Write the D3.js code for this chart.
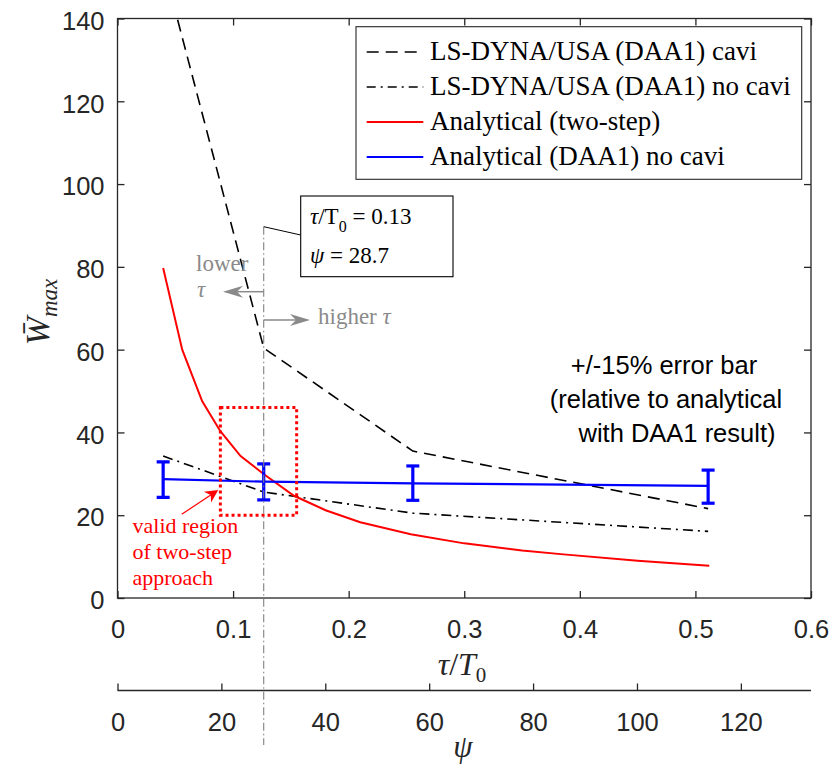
<!DOCTYPE html>
<html>
<head>
<meta charset="utf-8">
<script src="https://cdn.jsdelivr.net/npm/d3@7"></script>
<style>
  body { margin: 0; background: #fff; }
  svg { display: block; }
</style>
</head>
<body>
<div id="chart"></div>
<script>
// data
var tauFem = [0.0395, 0.1265, 0.2555, 0.511];
var wCavi = [153, 60.4, 35.5, 21.6];
var wNoCavi = [34.3, 25.6, 20.5, 16.1];
var wDaa1 = [28.7, 28.1, 27.7, 27.1];
var errHigh = [32.9, 32.4, 31.9, 30.9];
var errLow = [24.3, 23.7, 23.6, 22.9];
var tauTwoStep = [0.0395, 0.056, 0.0733, 0.089, 0.1065, 0.1267, 0.1527, 0.18, 0.21, 0.2537, 0.3, 0.35, 0.3835, 0.45, 0.512];
var wTwoStep = [79.7, 60, 47.5, 40.3, 34.3, 29.9, 24.7, 21.2, 18.3, 15.4, 13.2, 11.5, 10.6, 9.0, 7.8];
var tauTicks = [0, 0.1, 0.2, 0.3, 0.4, 0.5, 0.6];
var psiTicks = [0, 20, 40, 60, 80, 100, 120];
var wTicks = [0, 20, 40, 60, 80, 100, 120, 140];
var validTau = [0.089, 0.155];
var validW = [20, 46];
var legendNames = ["LS-DYNA/USA (DAA1) cavi", "LS-DYNA/USA (DAA1) no cavi", "Analytical (two-step)", "Analytical (DAA1) no cavi"];

var width = 833, height = 765;
var axisColor = "#262626";
var sans = "'Liberation Sans', Arial, Helvetica, sans-serif";
var serif = "'Liberation Serif', 'Times New Roman', serif";

var svg = d3.select("#chart").append("svg")
  .attr("width", width)
  .attr("height", height);

svg.append("rect").attr("width", width).attr("height", height).attr("fill", "#fff");

var x = d3.scaleLinear().domain([0, 0.6]).range([117.5, 811]);
var y = d3.scaleLinear().domain([0, 140]).range([598, 18.5]);
var psi = d3.scaleLinear().domain([0, 133.5]).range([117.5, 811]);

svg.append("clipPath").attr("id", "plotclip")
  .append("rect")
  .attr("x", x(0)).attr("y", y(140))
  .attr("width", x(0.6) - x(0)).attr("height", y(0) - y(140));

// axes
function styleAxis(g) {
  g.select(".domain").remove();
  g.selectAll(".tick line").attr("stroke", axisColor).attr("stroke-width", 1.3);
  g.selectAll(".tick text").attr("fill", axisColor)
    .style("font-family", sans).style("font-size", "25.5px");
}

svg.append("g")
  .attr("transform", "translate(0," + y(0) + ")")
  .call(d3.axisBottom(x).tickValues(tauTicks).tickSize(-7).tickPadding(22).tickFormat(d3.format("")))
  .call(styleAxis);

svg.append("g")
  .attr("transform", "translate(0," + y(140) + ")")
  .call(d3.axisTop(x).tickValues(tauTicks).tickSize(-7).tickFormat(""))
  .call(styleAxis);

svg.append("g")
  .attr("transform", "translate(" + x(0) + ",0)")
  .call(d3.axisLeft(y).tickValues(wTicks).tickSize(-7).tickPadding(13))
  .call(styleAxis)
  .selectAll(".tick text").attr("dy", "0.42em");

svg.append("g")
  .attr("transform", "translate(" + x(0.6) + ",0)")
  .call(d3.axisRight(y).tickValues(wTicks).tickSize(-7).tickFormat(""))
  .call(styleAxis);

svg.append("rect")
  .attr("x", x(0)).attr("y", y(140))
  .attr("width", x(0.6) - x(0)).attr("height", y(0) - y(140))
  .attr("fill", "none").attr("stroke", axisColor).attr("stroke-width", 1.3);

// second axis: psi
var psiY = 690.5;
svg.append("g")
  .attr("transform", "translate(0," + psiY + ")")
  .call(d3.axisBottom(psi).tickValues(psiTicks).tickSize(-7).tickPadding(22))
  .call(styleAxis);
svg.append("line")
  .attr("x1", psi(0)).attr("x2", x(0.6))
  .attr("y1", psiY).attr("y2", psiY)
  .attr("stroke", axisColor).attr("stroke-width", 1.5);

// axis labels
var tl = svg.append("text")
  .attr("x", 462).attr("y", 675)
  .attr("text-anchor", "middle")
  .style("font-family", serif).style("font-size", "32px").attr("fill", axisColor);
tl.append("tspan").style("font-style", "italic").text("τ");
tl.append("tspan").text("/");
tl.append("tspan").style("font-style", "italic").text("T");
tl.append("tspan").attr("dy", 7).style("font-size", "21px").text("0");

svg.append("text")
  .attr("x", 463).attr("y", 757)
  .attr("text-anchor", "middle")
  .style("font-family", serif).style("font-size", "31px").style("font-style", "italic")
  .attr("fill", axisColor)
  .text("ψ");

var yl = svg.append("text")
  .attr("transform", "translate(49,312) rotate(-90)")
  .attr("text-anchor", "middle")
  .style("font-family", serif).style("font-size", "34px").attr("fill", axisColor);
yl.append("tspan").style("font-style", "italic").text("W\u0304");
yl.append("tspan").attr("dy", 8).style("font-size", "23px").style("font-style", "italic").text("max");

// plot lines
var plot = svg.append("g").attr("clip-path", "url(#plotclip)");

var femLine = d3.line()
  .x(function (d) { return x(d[0]); })
  .y(function (d) { return y(d[1]); });

plot.append("path")
  .datum(d3.zip(tauFem, wCavi))
  .attr("d", femLine)
  .attr("fill", "none").attr("stroke", "#000").attr("stroke-width", 1.6)
  .attr("stroke-dasharray", "12,7");

plot.append("path")
  .datum(d3.zip(tauFem, wNoCavi))
  .attr("d", femLine)
  .attr("fill", "none").attr("stroke", "#000").attr("stroke-width", 1.6)
  .attr("stroke-dasharray", "10,5,2,5");

plot.append("path")
  .datum(d3.zip(tauTwoStep, wTwoStep))
  .attr("d", femLine)
  .attr("fill", "none").attr("stroke", "#ff0000").attr("stroke-width", 2);

plot.append("path")
  .datum(d3.zip(tauFem, wDaa1))
  .attr("d", femLine)
  .attr("fill", "none").attr("stroke", "#0000ff").attr("stroke-width", 2.2);

// error bars
var eb = plot.selectAll(".errbar")
  .data(d3.range(tauFem.length))
  .enter().append("g").attr("class", "errbar");
eb.append("line")
  .attr("x1", function (i) { return x(tauFem[i]); })
  .attr("x2", function (i) { return x(tauFem[i]); })
  .attr("y1", function (i) { return y(errLow[i]); })
  .attr("y2", function (i) { return y(errHigh[i]); })
  .attr("stroke", "#0000ff").attr("stroke-width", 3.2);
eb.append("line")
  .attr("x1", function (i) { return x(tauFem[i]) - 6.5; })
  .attr("x2", function (i) { return x(tauFem[i]) + 6.5; })
  .attr("y1", function (i) { return y(errLow[i]); })
  .attr("y2", function (i) { return y(errLow[i]); })
  .attr("stroke", "#0000ff").attr("stroke-width", 3.2);
eb.append("line")
  .attr("x1", function (i) { return x(tauFem[i]) - 6.5; })
  .attr("x2", function (i) { return x(tauFem[i]) + 6.5; })
  .attr("y1", function (i) { return y(errHigh[i]); })
  .attr("y2", function (i) { return y(errHigh[i]); })
  .attr("stroke", "#0000ff").attr("stroke-width", 3.2);

// valid region box
svg.append("rect")
  .attr("x", x(validTau[0])).attr("y", y(validW[1]))
  .attr("width", x(validTau[1]) - x(validTau[0]))
  .attr("height", y(validW[0]) - y(validW[1]))
  .attr("fill", "none").attr("stroke", "#ff0000").attr("stroke-width", 3)
  .attr("stroke-dasharray", "3,3");

// red arrow + text
function arrowHead(g, x1, y1, x2, y2, len, wid, color) {
  var a = Math.atan2(y2 - y1, x2 - x1);
  var ca = Math.cos(a), sa = Math.sin(a);
  var bx = x2 - len * ca, by = y2 - len * sa;
  var nx = x2 - len * 0.7 * ca, ny = y2 - len * 0.7 * sa;
  var pts = [
    [x2, y2],
    [bx - wid / 2 * sa, by + wid / 2 * ca],
    [nx, ny],
    [bx + wid / 2 * sa, by - wid / 2 * ca]
  ];
  g.append("path").attr("d", "M" + pts.join("L") + "Z").attr("fill", color);
}

svg.append("line")
  .attr("x1", 181.7).attr("y1", 514.3).attr("x2", 216).attr("y2", 491.5)
  .attr("stroke", "#ff0000").attr("stroke-width", 1.2);
arrowHead(svg, 181.7, 514.3, 218.3, 490, 13, 13, "#ff0000");

var redText = ["valid region", "of two-step", "approach"];
svg.selectAll(".redtext")
  .data(redText)
  .enter().append("text")
  .attr("x", 132.5)
  .attr("y", function (d, i) { return 533 + i * 26; })
  .style("font-family", serif).style("font-size", "22px")
  .attr("fill", "#ff0000")
  .text(function (d) { return d; });

// vertical marker at tau = 0.13
var xm = x(tauFem[1]);
svg.append("line")
  .attr("x1", xm).attr("x2", xm)
  .attr("y1", 226.7).attr("y2", 745)
  .attr("stroke", "#808080").attr("stroke-width", 1.1)
  .attr("stroke-dasharray", "8,3,1.5,3");

svg.append("line")
  .attr("x1", xm).attr("y1", 226.7).attr("x2", 300.7).attr("y2", 235)
  .attr("stroke", "#000").attr("stroke-width", 1);

svg.append("rect")
  .attr("x", 300.7).attr("y", 196).attr("width", 152.3).attr("height", 80.7)
  .attr("fill", "#fff").attr("stroke", "#000").attr("stroke-width", 1.1);

var a1 = svg.append("text").attr("x", 310).attr("y", 224)
  .style("font-family", serif).style("font-size", "23px").attr("fill", "#000");
a1.append("tspan").style("font-style", "italic").text("τ");
a1.append("tspan").text("/T");
a1.append("tspan").attr("dy", 8).style("font-size", "16px").text("0");
a1.append("tspan").attr("dy", -8).text(" = 0.13");

var a2 = svg.append("text").attr("x", 310).attr("y", 263)
  .style("font-family", serif).style("font-size", "23px").attr("fill", "#000");
a2.append("tspan").style("font-style", "italic").text("ψ");
a2.append("tspan").text(" = 28.7");

// lower / higher tau arrows
var gray = "#8a8a8a";
svg.append("line").attr("x1", xm).attr("x2", 236).attr("y1", 291.7).attr("y2", 291.7)
  .attr("stroke", gray).attr("stroke-width", 1.5);
arrowHead(svg, xm, 291.7, 223, 291.7, 20, 12, gray);
svg.append("line").attr("x1", xm).attr("x2", 298).attr("y1", 320).attr("y2", 320)
  .attr("stroke", gray).attr("stroke-width", 1.5);
arrowHead(svg, xm, 320, 310, 320, 20, 12, gray);

svg.append("text").attr("x", 196).attr("y", 270.5)
  .style("font-family", serif).style("font-size", "23px").attr("fill", gray)
  .text("lower");
svg.append("text").attr("x", 197).attr("y", 297)
  .style("font-family", serif).style("font-size", "23px").style("font-style", "italic").attr("fill", gray)
  .text("τ");
var ht = svg.append("text").attr("x", 318).attr("y", 324)
  .style("font-family", serif).style("font-size", "23px").attr("fill", gray);
ht.append("tspan").text("higher ");
ht.append("tspan").style("font-style", "italic").text("τ");

// error bar note
var noteLines = ["+/-15% error bar", "(relative to analytical", "with DAA1 result)"];
var noteX = [664, 666, 677];
svg.selectAll(".note")
  .data(noteLines)
  .enter().append("text")
  .attr("x", function (d, i) { return noteX[i]; })
  .attr("y", function (d, i) { return 374 + i * 34; })
  .attr("text-anchor", "middle")
  .style("font-family", sans).style("font-size", "25.5px")
  .attr("fill", "#000")
  .text(function (d) { return d; });

// legend
var legend = svg.append("g");
legend.append("rect")
  .attr("x", 356).attr("y", 26.7).attr("width", 445.7).attr("height", 152.6)
  .attr("fill", "#fff").attr("stroke", axisColor).attr("stroke-width", 1.1);

var legendStyles = [
  { color: "#000", dash: "12,7", w: 1.6 },
  { color: "#000", dash: "9,5,2,5", w: 1.6 },
  { color: "#ff0000", dash: null, w: 2 },
  { color: "#0000ff", dash: null, w: 2.2 }
];
var rows = legend.selectAll(".row")
  .data(legendNames)
  .enter().append("g")
  .attr("transform", function (d, i) { return "translate(0," + (52 + i * 35) + ")"; });
rows.append("line")
  .attr("x1", 366.7).attr("x2", 423.3)
  .attr("stroke", function (d, i) { return legendStyles[i].color; })
  .attr("stroke-width", function (d, i) { return legendStyles[i].w; })
  .attr("stroke-dasharray", function (d, i) { return legendStyles[i].dash; });
rows.append("text")
  .attr("x", 430).attr("y", 8)
  .style("font-family", serif).style("font-size", "27px")
  .attr("fill", "#000")
  .text(function (d) { return d; });
</script>
</body>
</html>
